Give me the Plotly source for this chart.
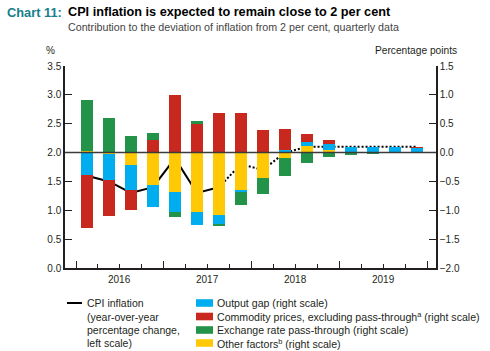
import plotly.graph_objects as go

# Quarterly positions: 2016Q1 .. 2019Q4
quarters = list(range(16))
years = ["2016", "2017", "2018", "2019"]

cpi = [1.6, 1.5, 1.3, 1.4, 1.9, 1.3, 1.4, 1.8, 1.7, 2.0, 2.1, 2.1, 2.1, 2.1, 2.1, 2.1]
n_actual = 7  # last actual observation index 6 (2017Q3)

other = [0.03, -0.03, -0.22, -0.57, -0.69, -1.035, -1.09, -0.65, -0.445, -0.10, 0.11, 0.05, 0.0, 0.0, 0.0, 0.0]
output_gap = [-0.39, -0.44, -0.42, -0.38, -0.345, -0.225, -0.14, -0.04, 0.01, 0.04, 0.07, 0.09, 0.09, 0.09, 0.09, 0.08]
commodity = [-0.92, -0.63, -0.36, 0.21, 1.0, 0.50, 0.68, 0.68, 0.38, 0.365, 0.14, 0.085, 0.0, 0.0, 0.0, 0.01]
exchange = [0.88, 0.60, 0.28, 0.13, -0.085, 0.05, -0.05, -0.21, -0.275, -0.31, -0.18, -0.075, -0.04, -0.03, 0.0, 0.0]

C_BLUE = "#00AEEF"
C_RED = "#C8281E"
C_GREEN = "#23934A"
C_YELLOW = "#FFC905"
TXT = "#231F20"
FONT = "Liberation Sans, Arial, sans-serif"

# plot area in pixels
L, R, T, B = 65, 436, 66, 268
W, H = 490, 351


def px(xpix):
    return (xpix - L) / (R - L)


def py(ypix):
    return (B - ypix) / (B - T)


fig = go.Figure()
bw = 0.53
for vals, col in [(other, C_YELLOW), (output_gap, C_BLUE), (commodity, C_RED), (exchange, C_GREEN)]:
    fig.add_trace(go.Bar(x=quarters, y=vals, yaxis="y2", marker=dict(color=col, line=dict(width=0)),
                         width=bw, showlegend=False, hoverinfo="skip"))

fig.add_trace(go.Scatter(x=quarters[:n_actual], y=cpi[:n_actual], mode="lines",
                         line=dict(color="black", width=2), showlegend=False))
fig.add_trace(go.Scatter(x=quarters[n_actual - 1:], y=cpi[n_actual - 1:], mode="lines",
                         line=dict(color="black", width=2, dash="2px,2px"), showlegend=False))

fig.update_layout(
    width=W, height=H,
    margin=dict(l=L, r=W - R, t=T, b=H - B),
    paper_bgcolor="white", plot_bgcolor="rgba(0,0,0,0)",
    barmode="relative", bargap=0,
    font=dict(family=FONT, size=10, color=TXT),
    xaxis=dict(range=[-1.0, 15.87], showgrid=False, zeroline=False, showticklabels=False,
               showline=True, linecolor="#231F20", linewidth=1.5,
               tickmode="array", tickvals=[-0.5, 3.5, 7.5, 11.5, 15.5],
               ticks="inside", ticklen=7, tickwidth=1.2, tickcolor="#231F20",
               minor=dict(tickmode="linear", tick0=-0.5, dtick=1, ticks="inside", ticklen=4,
                          tickwidth=1, tickcolor="#231F20", showgrid=False)),
    yaxis=dict(range=[0, 3.5], dtick=0.5, tick0=0, tickformat=".1f", showgrid=False, zeroline=False,
               showline=True, linecolor="#231F20", linewidth=1.5,
               ticks="inside", ticklen=7, tickwidth=1.2, tickcolor="#231F20"),
    yaxis2=dict(range=[-2, 1.5], dtick=0.5, tick0=0, tickformat=".1f", overlaying="y", side="right",
                showgrid=False, zeroline=False, showline=True, linecolor="#231F20", linewidth=1.5,
                ticks="inside", ticklen=7, tickwidth=1.2, tickcolor="#231F20"),
)

# reference line at 2 per cent
fig.add_shape(type="line", xref="paper", yref="y", x0=0, x1=1, y0=2, y1=2,
              line=dict(color="#3A3A3A", width=1.5), layer="above")

# year labels
for i, yr in enumerate(years):
    fig.add_annotation(x=1.5 + 4 * i, y=py(279), xref="x", yref="paper", text=yr, showarrow=False,
                       font=dict(size=10, color=TXT), yanchor="middle")

# titles
fig.add_annotation(x=px(5), y=py(12), xref="paper", yref="paper", xanchor="left", yanchor="middle",
                   text="<b>Chart 11:</b>", showarrow=False, font=dict(size=12.8, color="#177E8B"))
fig.add_annotation(x=px(66), y=py(12), xref="paper", yref="paper", xanchor="left", yanchor="middle",
                   text="<b>CPI inflation is expected to remain close to 2 per cent</b>", showarrow=False,
                   font=dict(size=12.7, color="black"))
fig.add_annotation(x=px(66), y=py(27), xref="paper", yref="paper", xanchor="left", yanchor="middle",
                   text="Contribution to the deviation of inflation from 2 per cent, quarterly data",
                   showarrow=False, font=dict(size=10.7, color="#444444"))
fig.add_annotation(x=px(50), y=py(51), xref="paper", yref="paper", xanchor="center", yanchor="middle",
                   text="%", showarrow=False, font=dict(size=10, color=TXT))
fig.add_annotation(x=px(459), y=py(51), xref="paper", yref="paper", xanchor="right", yanchor="middle",
                   text="Percentage points", showarrow=False, font=dict(size=10.2, color=TXT))

# legend (manual)
fig.add_shape(type="line", xref="paper", yref="paper", x0=px(67), x1=px(82), y0=py(303), y1=py(303),
              line=dict(color="black", width=2))
cpi_lines = ["CPI inflation", "(year-over-year", "percentage change,", "left scale)"]
rows = [303, 316.5, 330, 343]
for t, r in zip(cpi_lines, rows):
    fig.add_annotation(x=px(85), y=py(r), xref="paper", yref="paper", xanchor="left", yanchor="middle",
                       text=t, showarrow=False, font=dict(size=10.5, color=TXT))

legend_items = [
    ("Output gap (right scale)", C_BLUE),
    ("Commodity prices, excluding pass-through<sup>a</sup> (right scale)", C_RED),
    ("Exchange rate pass-through (right scale)", C_GREEN),
    ("Other factors<sup>b</sup> (right scale)", C_YELLOW),
]
for (t, c), r in zip(legend_items, rows):
    fig.add_shape(type="rect", xref="paper", yref="paper", x0=px(196), x1=px(213), y0=py(r + 3.8), y1=py(r - 3.8),
                  fillcolor=c, line=dict(width=0))
    fig.add_annotation(x=px(215), y=py(r), xref="paper", yref="paper", xanchor="left", yanchor="middle",
                       text=t, showarrow=False, font=dict(size=10.6, color=TXT))

fig.write_html("out.html")
